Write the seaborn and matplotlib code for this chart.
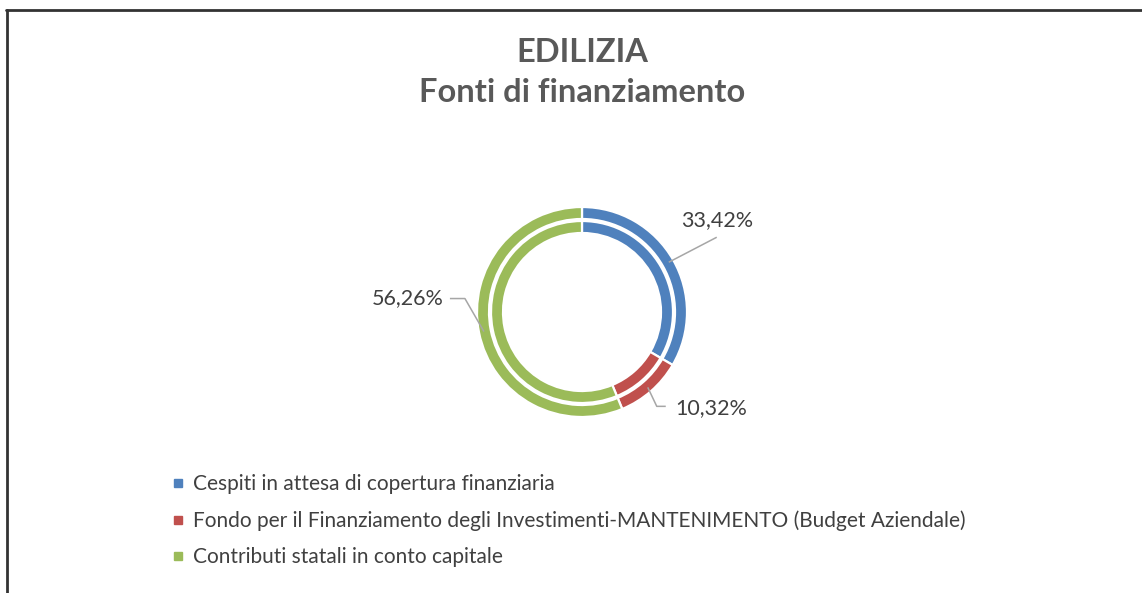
import matplotlib
matplotlib.use("Agg")
import matplotlib.pyplot as plt
import seaborn as sns
import numpy as np
from matplotlib.lines import Line2D

# ---- data ----
categories = [
    "Cespiti in attesa di copertura finanziaria",
    "Fondo per il Finanziamento degli Investimenti-MANTENIMENTO (Budget Aziendale)",
    "Contributi statali in conto capitale",
]
values = [33.42, 10.32, 56.26]
value_labels = ["33,42%", "10,32%", "56,26%"]
colors = ["#4F81BD", "#C0504D", "#9BBB59"]
title_lines = ["EDILIZIA", "Fonti di finanziamento"]

sns.set_theme(style="white")
plt.rcParams['font.family'] = ['Lato', 'DejaVu Sans']

W, H = 1142, 593
fig = plt.figure(figsize=(W / 100, H / 100), dpi=100)
fig.patch.set_facecolor("white")
ax = fig.add_axes([0, 0, 1, 1])

cx, cy = 582, H - 312
R = 105
ring_w = 12
ax.pie(values, radius=R, center=(cx, cy), startangle=90, counterclock=False,
       colors=colors, wedgeprops=dict(width=ring_w, edgecolor="white", linewidth=1.6))
ax.pie(values, radius=R - 14, center=(cx, cy), startangle=90, counterclock=False,
       colors=colors, wedgeprops=dict(width=ring_w, edgecolor="white", linewidth=1.6))
ax.set_xlim(0, W)
ax.set_ylim(0, H)
ax.set_aspect("equal")
ax.axis("off")

# ---- data labels with leader lines (layout offsets, in px) ----
leader_layout = [
    dict(path=[(48, 25)], text=(48, 42), ha="center"),
    dict(path=[(9, -19), (18, -19)], text=(28, -21), ha="left"),
    dict(path=[(-19, 33), (-34, 33)], text=(-40, 33), ha="right"),
]
total = sum(values)
cum = 0
for v, lab, lay in zip(values, value_labels, leader_layout):
    mid = 90 - 360 * (cum + v / 2) / total
    cum += v
    ax_ = cx + 100 * np.cos(np.radians(mid))
    ay_ = cy + 100 * np.sin(np.radians(mid))
    xs = [ax_] + [ax_ + p[0] for p in lay["path"]]
    ys = [ay_] + [ay_ + p[1] for p in lay["path"]]
    ax.plot(xs, ys, color="#A6A6A6", lw=1.1, solid_capstyle="butt", zorder=5)
    ax.text(ax_ + lay["text"][0], ay_ + lay["text"][1], lab, ha=lay["ha"], va="center",
            fontsize=15.5, color="#404040")

# ---- title ----
fig.text(582 / W, 1 - 52 / H, title_lines[0], ha="center", va="center",
         fontsize=23.5, fontweight="bold", color="#595959")
fig.text(582 / W, 1 - 93 / H, title_lines[1], ha="center", va="center",
         fontsize=23.5, fontweight="bold", color="#595959")

# ---- legend ----
handles = [Line2D([0], [0], marker="s", linestyle="none", markersize=5.5,
                  markerfacecolor=c, markeredgecolor=c) for c in colors]
fig.legend(handles, categories, loc="upper left", bbox_to_anchor=(173 / W, 1 - 474 / H),
           frameon=False, fontsize=15, labelcolor="#404040", handlelength=0.5,
           handletextpad=0.45, labelspacing=0.78, borderaxespad=0, borderpad=0)

# ---- outer frame lines ----
fig.add_artist(Line2D([6 / W, 1], [1 - 10 / H, 1 - 10 / H], transform=fig.transFigure,
                      color="#333333", lw=2.0))
fig.add_artist(Line2D([7 / W, 7 / W], [1 - 10 / H, 0], transform=fig.transFigure,
                      color="#333333", lw=2.0))

fig.savefig("out.png", dpi=100, facecolor="white")
